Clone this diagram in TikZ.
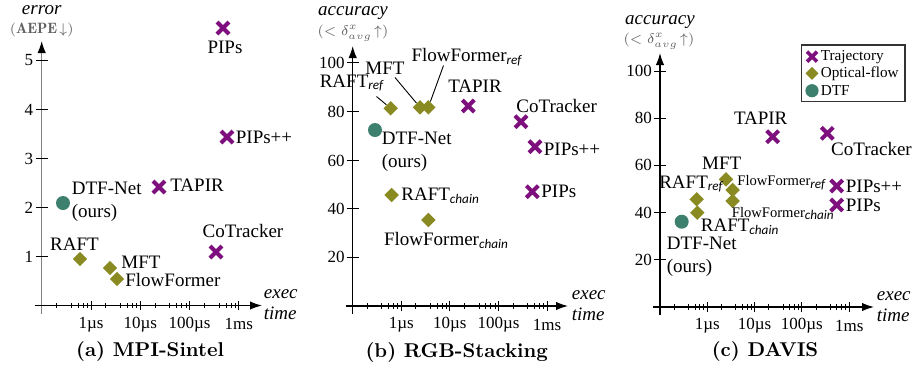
\documentclass[tikz,border=0pt]{standalone}
\usepackage{fontspec}
\usetikzlibrary{arrows.meta,shapes.geometric}
\newfontfamily\lib{Liberation Serif}
\newfontfamily\carl{Carlito}
\definecolor{trajc}{RGB}{125,16,125}
\definecolor{oflowc}{RGB}{138,138,34}
\definecolor{dtfc}{RGB}{62,128,110}
\newcommand\lsub[1]{\raisebox{-1.4pt}{\carl\itshape\fontsize{6.6}{7}\selectfont #1}}
\newcommand\trajX[2]{\coordinate (#1) at (#2);
  \draw[xline] (#1) ++(-6,-6) -- ++(12,12) (#1) ++(-6,6) -- ++(12,-12);}
\newcommand\legX[2]{\coordinate (#1) at (#2);
  \draw[xline,line width=1.8pt] (#1) ++(-5,-5) -- ++(10,10) (#1) ++(-5,5) -- ++(10,-10);}
% #1 prefix, #2 ox, #3 oy, #4 decade, #5 arrow end, #6 label x for exec/time
\newcommand\xaxis[6]{%
  \draw[axisline] ({#2-7},#3) -- (#5,#3);
  \foreach \k in {0,1,2,3}{
    \foreach \f in {0.301,0.602,0.74,0.845,0.93}{
      \draw[tickline] ({#2+\k*#4+\f*#4},{#3-2.6}) -- ++(0,5.2);}
    \draw[tickline] ({#2+(\k+1)*#4},{#3-4.6}) -- ++(0,9.2);
  }
  \node[ticklab] (#1x1) at ({#2+#4},{#3+18.7}) {1µs};
  \node[ticklab] (#1x2) at ({#2+2*#4},{#3+18.7}) {10µs};
  \node[ticklab] (#1x3) at ({#2+3*#4},{#3+18.7}) {100µs};
  \node[ticklab] (#1x4) at ({#2+4*#4},{#3+18.7}) {1ms};
  \node[axtitle,anchor=west] (#1exec) at (#6,{#3-11}) {exec};
  \node[axtitle,anchor=west] (#1time) at (#6,{#3+8}) {time};
}
\tikzset{
  lab/.style={font=\lib\fontsize{9.5}{11.5}\selectfont, inner sep=0pt},
  smlab/.style={font=\lib\fontsize{7.3}{9}\selectfont, inner sep=0pt},
  leglab/.style={font=\lib\fontsize{7.6}{9}\selectfont, inner sep=0pt, anchor=west},
  ticklab/.style={font=\lib\fontsize{8.5}{10}\selectfont, inner sep=0pt},
  axtitle/.style={font=\lib\itshape\fontsize{9.5}{11}\selectfont, inner sep=0pt},
  axsub/.style={font=\fontsize{7.5}{9}\selectfont, text=black!62, inner sep=0pt},
  captionlab/.style={font=\bfseries\fontsize{10}{12}\selectfont, inner sep=0pt},
  axisline/.style={line width=0.6pt, -{Latex[length=6pt,width=4.2pt,color=black]}},
  tickline/.style={line width=0.5pt},
  xline/.style={draw=trajc, line width=2pt},
  ofnode/.style={diamond, fill=oflowc, inner sep=0pt, minimum width=7.4pt, minimum height=7.4pt},
  dtfnode/.style={circle, fill=dtfc, inner sep=0pt, minimum size=7pt},
  leader/.style={line width=0.45pt},
}
\begin{document}
\begin{tikzpicture}[x=0.5pt,y=-0.5pt]
\useasboundingbox (0,0) rectangle (912,366);

%================ (a) MPI-Sintel ================
\draw[axisline, draw=black!50] (41.7,314) -- (41.7,41);
\foreach \v/\yy in {1/256.5,2/207.5,3/158.5,4/109.5,5/60.5}{
  \draw[tickline] (35.7,\yy) -- (47.7,\yy);
  \node[ticklab,anchor=east] (ay\v) at (33.5,\yy) {\v};
}
\xaxis{a}{41.7}{305.5}{49.3}{262}{263.5}
\node[axtitle] (aerr) at (41.7,10.5) {error};
\node[axsub] (aaepe) at (41.7,29.5) {$(\mathbf{AEPE}\!\downarrow)$};
\node[captionlab] (acap) at (150,351.5) {(a)\ MPI-Sintel};

\trajX{apips}{223,28}
\node[lab] (apipsl) at (225,47.5) {PIPs};
\trajX{apipspp}{227,137}
\node[lab,anchor=west] (apipsppl) at (235.5,137) {PIPs++};
\trajX{atapir}{159,187}
\node[lab,anchor=west] (atapirl) at (170,185.5) {TAPIR};
\trajX{acot}{216,252}
\node[lab] (acotl) at (243,231) {CoTracker};
\node[dtfnode] (adtf) at (63,203) {};
\node[lab,anchor=west,align=left] (adtfl) at (71.5,201.5) {DTF-Net\\(ours)};
\node[ofnode] (araft) at (80,259) {};
\node[lab] (araftl) at (74.5,244) {RAFT};
\node[ofnode] (amft) at (110,268) {};
\node[lab,anchor=west] (amftl) at (121,262) {MFT};
\node[ofnode] (aff) at (117,279) {};
\node[lab,anchor=west] (affl) at (125,280) {FlowFormer};

%================ (b) RGB-Stacking ================
\draw[axisline] (352.7,314) -- (352.7,46);
\foreach \v/\yy in {20/257.3,40/208.6,60/160.5,80/111.9,100/62.9}{
  \draw[tickline] (346.7,\yy) -- (358.7,\yy);
  \node[ticklab,anchor=east] (by\v) at (345,\yy) {\v};
}
\xaxis{b}{352.7}{306}{48.6}{568}{571.5}
\node[axtitle] (bacc) at (353,13.5) {accuracy};
\node[axsub] (bdelta) at (353,33.5) {$(<\delta^{x}_{avg}\!\uparrow)$};
\node[captionlab] (bcap) at (456.7,352.5) {(b)\ RGB-Stacking};

\node[ofnode] (braftref) at (390.7,108.3) {};
\node[lab] (braftrefl) at (351.5,83) {RAFT\lsub{ref}};
\coordinate (braftrefc) at (376.5,96.5);
\draw[leader] (braftrefc) -- (braftref);
\node[ofnode] (bmft) at (420,107.3) {};
\node[lab] (bmftl) at (385,68) {MFT};
\coordinate (bmftc) at (395,77.5);
\draw[leader] (bmftc) -- (bmft);
\node[ofnode] (bffref) at (428.3,107.3) {};
\node[lab] (bffrefl) at (466.5,57.5) {FlowFormer\lsub{ref}};
\coordinate (bffrefc) at (443.5,65.5);
\draw[leader] (bffrefc) -- (bffref);
\trajX{btapir}{468.3,106}
\node[lab] (btapirl) at (475,86) {TAPIR};
\trajX{bcot}{521,121.7}
\node[lab] (bcotl) at (556.7,106) {CoTracker};
\trajX{bpipspp}{535,146.7}
\node[lab,anchor=west] (bpipsppl) at (543.5,149.5) {PIPs++};
\node[dtfnode] (bdtf) at (375,130) {};
\node[lab,anchor=west,align=left] (bdtfl) at (381.5,151.5) {DTF-Net\\(ours)};
\node[ofnode] (braftch) at (391.7,195) {};
\node[lab,anchor=west] (braftchl) at (401,196) {RAFT\lsub{chain}};
\node[ofnode] (bffch) at (428.3,220) {};
\node[lab] (bffchl) at (446,240.5) {FlowFormer\lsub{chain}};
\trajX{bpips}{532.3,191.7}
\node[lab,anchor=west] (bpipsl) at (541,191.7) {PIPs};

%================ (c) DAVIS ================
\draw[axisline] (660,315) -- (660,53);
\foreach \v/\yy in {20/259.8,40/212.6,60/165.4,80/118.2,100/71}{
  \draw[tickline] (654,\yy) -- (666,\yy);
  \node[ticklab,anchor=east] (cy\v) at (652.3,\yy) {\v};
}
\xaxis{c}{660}{307}{47.3}{874}{876.5}
\node[axtitle] (cacc) at (660,22) {accuracy};
\node[axsub] (cdelta) at (659,41) {$(<\delta^{x}_{avg}\!\uparrow)$};
\node[captionlab] (ccap) at (765,351.5) {(c)\ DAVIS};

% legend
\node[draw=black!80, line width=0.6pt, minimum width=103.3*0.5pt, minimum height=56.7*0.5pt, inner sep=0pt] (legend) at (853.35,73.35) {};
\legX{lgtraj}{812,56.7}
\node[leglab] (lgtrajl) at (820.5,56.7) {Trajectory};
\node[ofnode,minimum width=6.7pt,minimum height=6.7pt] (lgof) at (812,73.3) {};
\node[leglab] (lgofl) at (820.5,73.3) {Optical-flow};
\node[dtfnode,minimum size=6.6pt] (lgdtf) at (812,90.7) {};
\node[leglab] (lgdtfl) at (820.5,90.7) {DTF};

\trajX{ctapir}{772.7,136.7}
\node[lab] (ctapirl) at (760.7,118.3) {TAPIR};
\trajX{ccot}{827.3,133.3}
\node[lab] (ccotl) at (871.5,149.3) {CoTracker};
\node[ofnode] (cmft) at (726,179.3) {};
\node[lab] (cmftl) at (721.7,163.3) {MFT};
\node[ofnode] (cffref) at (732.7,190) {};
\node[smlab,anchor=west] (cffrefl) at (737,182.5) {FlowFormer\lsub{ref}};
\node[ofnode] (cffch) at (732.7,201) {};
\node[smlab,anchor=west] (cffchl) at (731.5,213.5) {FlowFormer\lsub{chain}};
\node[ofnode] (craftref) at (696.7,199.3) {};
\node[lab] (craftrefl) at (691,184) {RAFT\lsub{ref}};
\node[ofnode] (craftch) at (697.3,212.7) {};
\node[lab,anchor=west] (craftchl) at (700.5,226.5) {RAFT\lsub{chain}};
\node[dtfnode] (cdtf) at (681.7,221.7) {};
\node[lab,anchor=west,align=left] (cdtfl) at (666.5,256.5) {DTF-Net\\(ours)};
\trajX{cpipspp}{836.7,186}
\node[lab,anchor=west] (cpipsppl) at (845.5,186) {PIPs++};
\trajX{cpips}{836.7,205}
\node[lab,anchor=west] (cpipsl) at (845.5,205) {PIPs};
\end{tikzpicture}
\end{document}
